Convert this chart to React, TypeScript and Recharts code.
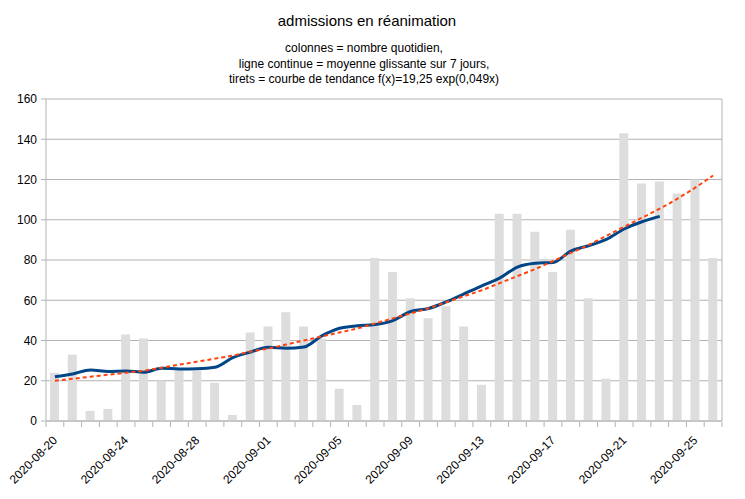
import { ComposedChart, Bar, Line, XAxis, YAxis, CartesianGrid } from 'recharts'

document.body.style.margin = '0'

const dates = [
  '2020-08-20', '2020-08-21', '2020-08-22', '2020-08-23', '2020-08-24', '2020-08-25',
  '2020-08-26', '2020-08-27', '2020-08-28', '2020-08-29', '2020-08-30', '2020-08-31',
  '2020-09-01', '2020-09-02', '2020-09-03', '2020-09-04', '2020-09-05', '2020-09-06',
  '2020-09-07', '2020-09-08', '2020-09-09', '2020-09-10', '2020-09-11', '2020-09-12',
  '2020-09-13', '2020-09-14', '2020-09-15', '2020-09-16', '2020-09-17', '2020-09-18',
  '2020-09-19', '2020-09-20', '2020-09-21', '2020-09-22', '2020-09-23', '2020-09-24',
  '2020-09-25', '2020-09-26',
]

// daily admissions (columns)
const daily = [
  24, 33, 5, 6, 43, 41, 20, 26, 25, 19, 3, 44,
  47, 54, 47, 41, 16, 8, 81, 74, 61, 51, 57, 47,
  18, 103, 103, 94, 74, 95, 61, 21, 143, 118, 119, 113,
  120, 81,
]

// 7-day moving average (solid line), stops at 2020-09-23
const movingAvg = [
  22, 23.4, 25.4, 24.6, 24.9, 24.2, 26.2, 25.9, 26, 26.7, 31.5, 34.3,
  36.6, 36.2, 36.8, 42.3, 46.1, 47.3, 47.9, 49.9, 54.4, 55.9, 59.2, 63.2,
  67.2, 71, 76.5, 78.4, 78.8, 84.4, 87.1, 90.2, 95.4, 99, 101.7, null,
  null, null,
]

// trend curve (dashed line)
const trend = [
  20, 21, 22, 23, 24, 25, 26.5, 28, 29.5, 31, 32.5, 34.5,
  36, 38, 40, 42, 44, 46, 48.5, 51, 53.5, 56, 59, 62,
  65, 68.5, 72, 75.5, 79.5, 83.5, 87.5, 92, 96.5, 101, 105.5, 110.5,
  116, 122,
]

const yTicks = [0, 20, 40, 60, 80, 100, 120, 140, 160]

const data = dates.map((d, i) => ({
  date: d,
  daily: daily[i],
  avg: movingAvg[i],
  trend: trend[i],
}))

const W = 745
const H = 499
const MARGIN = { top: 99, right: 23, left: 0, bottom: 8 }
const Y_AXIS_W = 46
const HALF_STEP = (W - MARGIN.right - MARGIN.left - Y_AXIS_W) / dates.length / 2

const GRID = '#b3b3b3'
const FONT = '"Liberation Sans", Arial, sans-serif'

function DateTick(props: any) {
  const { x, y, payload, index } = props
  const axisY = y - 7
  return (
    <g>
      <line x1={x - HALF_STEP} x2={x - HALF_STEP} y1={axisY} y2={axisY + 5} stroke={GRID} />
      {index === dates.length - 1 && (
        <line x1={x + HALF_STEP} x2={x + HALF_STEP} y1={axisY} y2={axisY + 5} stroke={GRID} />
      )}
      {index % 4 === 0 && (
        <text
          x={x + 3}
          y={axisY + 19}
          textAnchor="end"
          transform={`rotate(-45, ${x + 3}, ${axisY + 19})`}
          fontSize={12}
          fontFamily={FONT}
          fill="#000"
        >
          {payload.value}
        </text>
      )}
    </g>
  )
}

export default function App() {
  return (
    <div style={{ position: 'relative', width: W, height: H, fontFamily: FONT, background: '#fff' }}>
      <div style={{ position: 'absolute', top: 12, left: 0, width: 734, textAlign: 'center', fontSize: 15, color: '#000' }}>
        admissions en réanimation
      </div>
      <div style={{ position: 'absolute', top: 41, left: 0, width: 728, textAlign: 'center', fontSize: 12, lineHeight: '15.5px', color: '#000' }}>
        colonnes = nombre quotidien,
        <br />
        ligne continue = moyenne glissante sur 7 jours,
        <br />
        tirets = courbe de tendance f(x)=19,25 exp(0,049x)
      </div>
      <ComposedChart width={W} height={H} data={data} margin={MARGIN} style={{ position: 'absolute', top: 0, left: 0 }}>
        <CartesianGrid
          stroke={GRID}
          vertical
          verticalCoordinatesGenerator={({ offset }: any) => [offset.left + offset.width]}
        />
        <XAxis
          dataKey="date"
          interval={0}
          tickLine={false}
          axisLine={{ stroke: GRID }}
          tick={<DateTick />}
          height={70}
        />
        <YAxis
          domain={[0, 160]}
          ticks={yTicks}
          width={Y_AXIS_W}
          tickSize={5}
          tickMargin={4}
          tickLine={{ stroke: GRID }}
          axisLine={{ stroke: GRID }}
          tick={{ fontSize: 12, fill: '#000', fontFamily: FONT }}
        />
        <Bar dataKey="daily" fill="#dddddd" barSize={9} isAnimationActive={false} />
        <Line
          type="monotone"
          dataKey="avg"
          stroke="#004586"
          strokeWidth={3}
          dot={false}
          connectNulls={false}
          isAnimationActive={false}
        />
        <Line
          type="monotone"
          dataKey="trend"
          stroke="#ff420e"
          strokeWidth={2}
          strokeDasharray="4 3"
          dot={false}
          isAnimationActive={false}
        />
      </ComposedChart>
    </div>
  )
}
